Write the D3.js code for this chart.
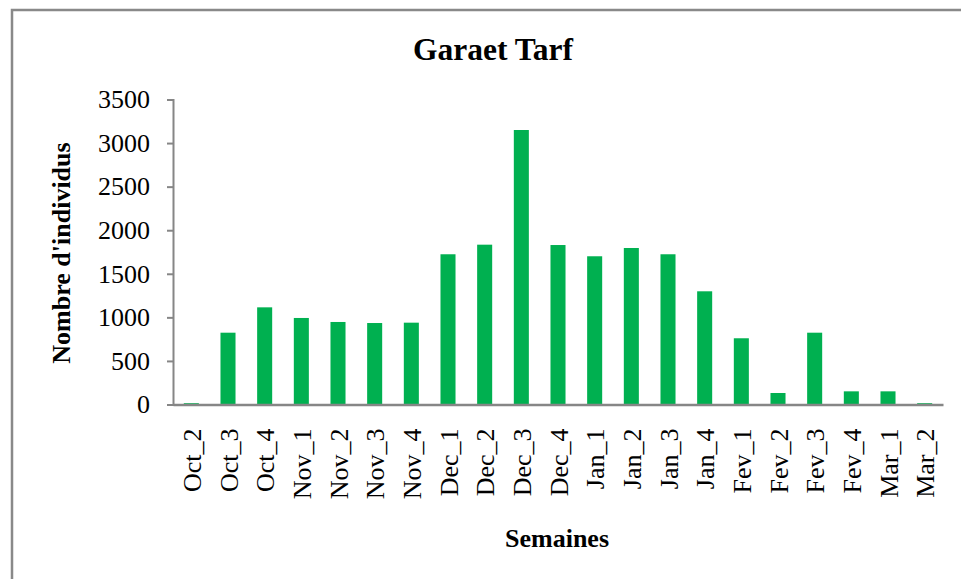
<!DOCTYPE html>
<html>
<head>
<meta charset="utf-8">
<script src="https://cdn.jsdelivr.net/npm/d3@7"></script>
<style>
  body { margin: 0; background: #fff; }
  svg { display: block; }
  svg text { font-family: "Liberation Serif", "Times New Roman", serif; }
</style>
</head>
<body>
<svg id="chart" width="961" height="579"></svg>
<script>
/*
 * Data
 */
var WEEKS = ['Oct_2', 'Oct_3', 'Oct_4', 'Nov_1', 'Nov_2', 'Nov_3', 'Nov_4',
             'Dec_1', 'Dec_2', 'Dec_3', 'Dec_4', 'Jan_1', 'Jan_2', 'Jan_3',
             'Jan_4', 'Fev_1', 'Fev_2', 'Fev_3', 'Fev_4', 'Mar_1', 'Mar_2'];
var COUNTS = [15, 824, 1115, 993, 947, 935, 939,
              1724, 1834, 3150, 1830, 1701, 1796, 1724,
              1299, 760, 132, 824, 151, 151, 15];
var Y_TICKS = [0, 500, 1000, 1500, 2000, 2500, 3000, 3500];

/*
 * Style
 */
var BAR_COLOR = '#00B050',
    AXIS_COLOR = '#868686',
    SERIF = '"Liberation Serif", "Times New Roman", serif',
    LEFT = 173, RIGHT = 943, TOP = 99.5, BOTTOM = 404.5;

var svg = d3.select('#chart');

// chart frame, runs off the right and bottom edges
svg.append('rect')
    .attr('x', 12).attr('y', 10)
    .attr('width', 1000).attr('height', 700)
    .attr('fill', 'none')
    .attr('stroke', '#898989')
    .attr('stroke-width', 2.5);

/*
 * Scales
 */
var x = d3.scaleBand()
    .domain(WEEKS)
    .range([LEFT, RIGHT])
    .paddingInner(0.59)
    .paddingOuter(0.295);

var y = d3.scaleLinear()
    .domain([0, 3500])
    .range([BOTTOM, TOP]);

/*
 * Bars
 */
svg.append('g').selectAll('rect')
    .data(COUNTS)
    .enter()
    .append('rect')
    .attr('x', function (d, i) { return x(WEEKS[i]); })
    .attr('width', x.bandwidth())
    .attr('y', function (d) { return y(d); })
    .attr('height', function (d) { return y(0) - y(d); })
    .attr('fill', BAR_COLOR);

/*
 * Axes
 */
var yAxis = svg.append('g')
    .attr('transform', 'translate(' + LEFT + ',0)')
    .call(d3.axisLeft(y).tickValues(Y_TICKS).tickFormat(d3.format('d'))
        .tickSize(6).tickPadding(17));
yAxis.attr('font-family', SERIF);
yAxis.select('.domain').attr('stroke', AXIS_COLOR).attr('stroke-width', 2);
yAxis.selectAll('.tick line').attr('stroke', AXIS_COLOR).attr('stroke-width', 2);
yAxis.selectAll('.tick text')
    .attr('font-size', 26)
    .attr('fill', '#000');

var xAxis = svg.append('g')
    .attr('transform', 'translate(0,' + BOTTOM + ')')
    .call(d3.axisBottom(x).tickSize(0).tickSizeOuter(0));
xAxis.attr('font-family', SERIF);
xAxis.select('.domain').attr('stroke', AXIS_COLOR).attr('stroke-width', 2.5);
xAxis.selectAll('.tick text')
    .attr('font-size', 26)
    .attr('fill', '#000')
    .attr('text-anchor', 'end')
    .attr('dy', null)
    .attr('y', 0)
    .attr('dominant-baseline', 'central')
    .attr('transform', 'translate(1,24) rotate(-90)');

/*
 * Titles
 */
svg.append('text')
    .attr('x', 493).attr('y', 60)
    .attr('text-anchor', 'middle')
    .attr('font-family', SERIF)
    .attr('font-weight', 'bold')
    .attr('font-size', 31.5)
    .text('Garaet Tarf');

svg.append('text')
    .attr('x', 557).attr('y', 547)
    .attr('text-anchor', 'middle')
    .attr('font-family', SERIF)
    .attr('font-weight', 'bold')
    .attr('font-size', 26)
    .text('Semaines');

svg.append('text')
    .attr('transform', 'translate(70,253) rotate(-90)')
    .attr('text-anchor', 'middle')
    .attr('font-family', SERIF)
    .attr('font-weight', 'bold')
    .attr('font-size', 26)
    .text("Nombre d'individus");
</script>
</body>
</html>
